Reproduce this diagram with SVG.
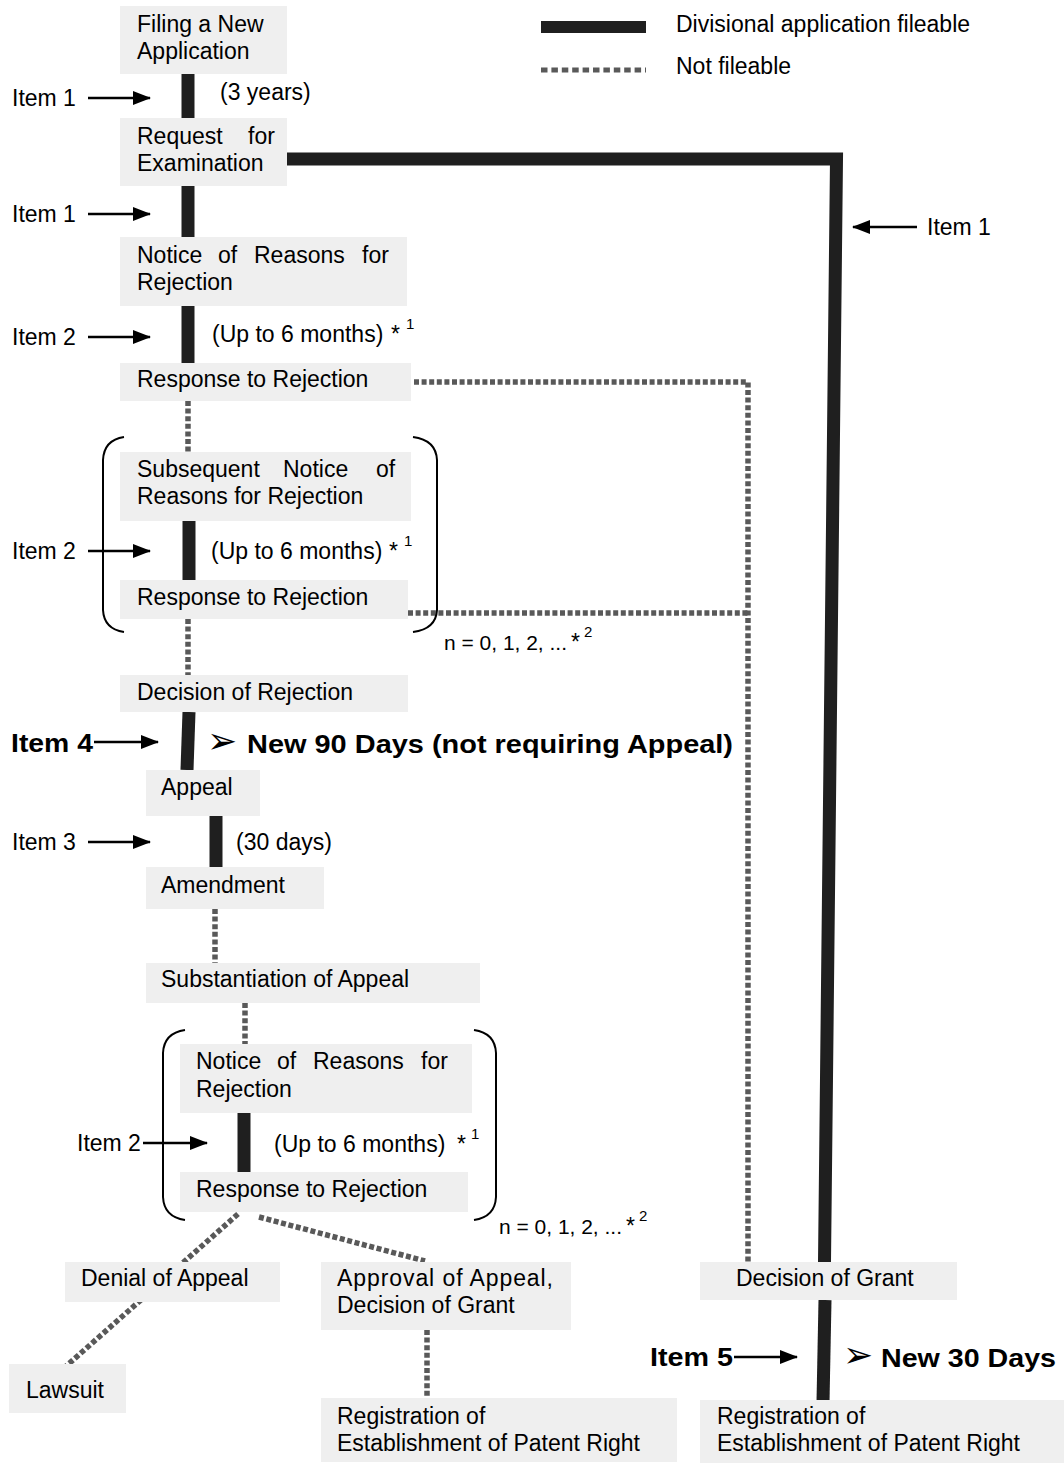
<svg xmlns="http://www.w3.org/2000/svg" width="1064" height="1463" viewBox="0 0 1064 1463">
<style>
  text { font-family: "Liberation Sans", Arial, sans-serif; font-size: 23px; fill: #000; }
  .box { fill: #efefef; }
  .thick { stroke: #1f1f1f; stroke-width: 13; fill: none; stroke-linecap: butt; }
  .dot { stroke: #595959; stroke-width: 5.5; fill: none; stroke-dasharray: 5 2.6; }
  .arrow { stroke: #000; stroke-width: 2.5; fill: none; marker-end: url(#ah); }
  .brk { stroke: #000; stroke-width: 2; fill: none; }
  .bold { font-weight: bold; font-size: 26px; }
  .sup { font-size: 15px; }
  .small { font-size: 20px; }
  .dingbat { font-family: "DejaVu Sans", sans-serif; font-weight: normal; font-size: 36px; }
</style>
<defs>
  <marker id="ah" markerWidth="18" markerHeight="14" refX="17" refY="7" orient="auto" markerUnits="userSpaceOnUse">
    <path d="M0,0 L18,7 L0,14 z" fill="#000"/>
  </marker>
</defs>

<g id="legend">
  <rect x="541" y="21" width="105" height="12" fill="#1f1f1f"/>
  <line x1="541" y1="70" x2="646" y2="70" stroke="#595959" stroke-width="5" stroke-dasharray="6.5 3.9"/>
  <text x="676" y="32" font-size="21">Divisional application fileable</text>
  <text x="676" y="74" font-size="21">Not fileable</text>
</g>

<g id="connectors">
  <!-- thick (fileable) -->
  <line class="thick" x1="188" y1="74" x2="188" y2="118"/>
  <line class="thick" x1="188" y1="186" x2="188" y2="237"/>
  <line class="thick" x1="188" y1="306" x2="188" y2="363"/>
  <line class="thick" x1="189" y1="521" x2="189" y2="580"/>
  <line class="thick" x1="189" y1="712" x2="187" y2="770"/>
  <line class="thick" x1="216" y1="816" x2="216" y2="867"/>
  <line class="thick" x1="244" y1="1113" x2="244" y2="1172"/>
  <path class="thick" d="M287,159 H836.5 L824.5,1262" stroke-linejoin="miter"/>
  <line class="thick" x1="825" y1="1300" x2="823" y2="1402"/>
  <!-- dotted (not fileable) -->
  <line class="dot" x1="188" y1="401" x2="188" y2="452"/>
  <polyline class="dot" points="414,382 748,382 748,1262"/>
  <line class="dot" x1="408" y1="613" x2="748" y2="613"/>
  <line class="dot" x1="188" y1="619" x2="188" y2="675"/>
  <line class="dot" x1="215" y1="909" x2="215" y2="963"/>
  <line class="dot" x1="245" y1="1003" x2="245" y2="1044"/>
  <line class="dot" x1="238" y1="1214" x2="64" y2="1368"/>
  <line class="dot" x1="259" y1="1217" x2="425" y2="1261"/>
  <line class="dot" x1="427" y1="1330" x2="427" y2="1398"/>
  <!-- item arrows -->
  <line class="arrow" x1="88" y1="98" x2="150" y2="98"/>
  <line class="arrow" x1="88" y1="214" x2="150" y2="214"/>
  <line class="arrow" x1="88" y1="337" x2="150" y2="337"/>
  <line class="arrow" x1="88" y1="551" x2="150" y2="551"/>
  <line class="arrow" x1="94" y1="742" x2="158" y2="742"/>
  <line class="arrow" x1="88" y1="842" x2="150" y2="842"/>
  <line class="arrow" x1="143" y1="1143" x2="207" y2="1143"/>
  <line class="arrow" x1="917" y1="227" x2="853" y2="227"/>
  <line class="arrow" x1="734" y1="1357" x2="797" y2="1357"/>
</g>

<g id="brackets">
  <path class="brk" d="M124,437 Q104,440 103,460 L103,610 Q104,629 124,632"/>
  <path class="brk" d="M413,437 Q436,440 437,460 L437,610 Q436,629 413,632"/>
  <path class="brk" d="M185,1030 Q164,1033 163,1053 L163,1197 Q164,1217 185,1220"/>
  <path class="brk" d="M474,1030 Q495,1033 496,1053 L496,1197 Q495,1217 474,1220"/>
</g>

<g id="labels">
  <text x="12" y="106">Item 1</text>
  <text x="12" y="222">Item 1</text>
  <text x="12" y="345">Item 2</text>
  <text x="12" y="559">Item 2</text>
  <text class="bold" x="11" y="752" textLength="82" lengthAdjust="spacingAndGlyphs">Item 4</text>
  <text x="12" y="850">Item 3</text>
  <text x="77" y="1151">Item 2</text>
  <text x="927" y="235">Item 1</text>
  <text class="bold" x="650" y="1366" textLength="83" lengthAdjust="spacingAndGlyphs">Item 5</text>
  <text x="220" y="100">(3 years)</text>
  <text x="212" y="342">(Up to 6 months)</text>
  <text x="391" y="342">*</text><text class="sup" x="406" y="329">1</text>
  <text x="211" y="559">(Up to 6 months)</text>
  <text x="389" y="559">*</text><text class="sup" x="404" y="546">1</text>
  <text x="274" y="1152">(Up to 6 months)</text>
  <text x="457" y="1152">*</text><text class="sup" x="471" y="1139">1</text>
  <text x="236" y="850">(30 days)</text>
  <text class="small" x="444" y="650" textLength="123" lengthAdjust="spacingAndGlyphs">n = 0, 1, 2, ...</text>
  <text x="571" y="650">*</text><text class="sup" x="584" y="637">2</text>
  <text class="small" x="499" y="1234" textLength="123" lengthAdjust="spacingAndGlyphs">n = 0, 1, 2, ...</text>
  <text x="626" y="1234">*</text><text class="sup" x="639" y="1221">2</text>
  <text class="dingbat" x="207" y="753">➢</text>
  <text class="bold" x="247" y="753" textLength="486" lengthAdjust="spacingAndGlyphs">New 90 Days (not requiring Appeal)</text>
  <text class="dingbat" x="843" y="1367">➢</text>
  <text class="bold" x="881" y="1367" textLength="175" lengthAdjust="spacingAndGlyphs">New 30 Days</text>
</g>

<g id="node-filing">
  <rect class="box" x="120" y="6" width="167" height="68"/>
  <text x="137" y="32">Filing a New</text>
  <text x="137" y="59">Application</text>
</g>
<g id="node-request">
  <rect class="box" x="120" y="118" width="167" height="68"/>
  <text x="137" y="144">Request</text><text x="248" y="144">for</text>
  <text x="137" y="171">Examination</text>
</g>
<g id="node-notice1">
  <rect class="box" x="120" y="237" width="287" height="69"/>
  <text x="137" y="263">Notice</text><text x="218" y="263">of</text><text x="254" y="263">Reasons</text><text x="362" y="263">for</text>
  <text x="137" y="290">Rejection</text>
</g>
<g id="node-response1">
  <rect class="box" x="120" y="363" width="291" height="38"/>
  <text x="137" y="387">Response to Rejection</text>
</g>
<g id="node-subsequent">
  <rect class="box" x="120" y="452" width="291" height="69"/>
  <text x="137" y="477">Subsequent</text><text x="283" y="477">Notice</text><text x="376" y="477">of</text>
  <text x="137" y="504">Reasons for Rejection</text>
</g>
<g id="node-response2">
  <rect class="box" x="120" y="580" width="288" height="39"/>
  <text x="137" y="605">Response to Rejection</text>
</g>
<g id="node-rejection">
  <rect class="box" x="120" y="675" width="288" height="37"/>
  <text x="137" y="700">Decision of Rejection</text>
</g>
<g id="node-appeal">
  <rect class="box" x="146" y="770" width="114" height="46"/>
  <text x="161" y="795">Appeal</text>
</g>
<g id="node-amendment">
  <rect class="box" x="146" y="867" width="178" height="42"/>
  <text x="161" y="893">Amendment</text>
</g>
<g id="node-substantiation">
  <rect class="box" x="146" y="963" width="334" height="40"/>
  <text x="161" y="987">Substantiation of Appeal</text>
</g>
<g id="node-notice2">
  <rect class="box" x="180" y="1044" width="292" height="69"/>
  <text x="196" y="1069">Notice</text><text x="277" y="1069">of</text><text x="313" y="1069">Reasons</text><text x="421" y="1069">for</text>
  <text x="196" y="1097">Rejection</text>
</g>
<g id="node-response3">
  <rect class="box" x="180" y="1172" width="288" height="40"/>
  <text x="196" y="1197">Response to Rejection</text>
</g>
<g id="node-denial">
  <rect class="box" x="65" y="1262" width="215" height="40"/>
  <text x="81" y="1286">Denial of Appeal</text>
</g>
<g id="node-approval">
  <rect class="box" x="321" y="1262" width="250" height="68"/>
  <text x="337" y="1286" textLength="216" lengthAdjust="spacing">Approval of Appeal,</text>
  <text x="337" y="1313">Decision of Grant</text>
</g>
<g id="node-lawsuit">
  <rect class="box" x="9" y="1364" width="117" height="49"/>
  <text x="26" y="1398">Lawsuit</text>
</g>
<g id="node-registration-left">
  <rect class="box" x="321" y="1398" width="356" height="64"/>
  <text x="337" y="1424">Registration of</text>
  <text x="337" y="1451">Establishment of Patent Right</text>
</g>
<g id="node-grant">
  <rect class="box" x="700" y="1262" width="257" height="38"/>
  <text x="736" y="1286">Decision of Grant</text>
</g>
<g id="node-registration-right">
  <rect class="box" x="700" y="1400" width="364" height="63"/>
  <text x="717" y="1424">Registration of</text>
  <text x="717" y="1451">Establishment of Patent Right</text>
</g>
</svg>
